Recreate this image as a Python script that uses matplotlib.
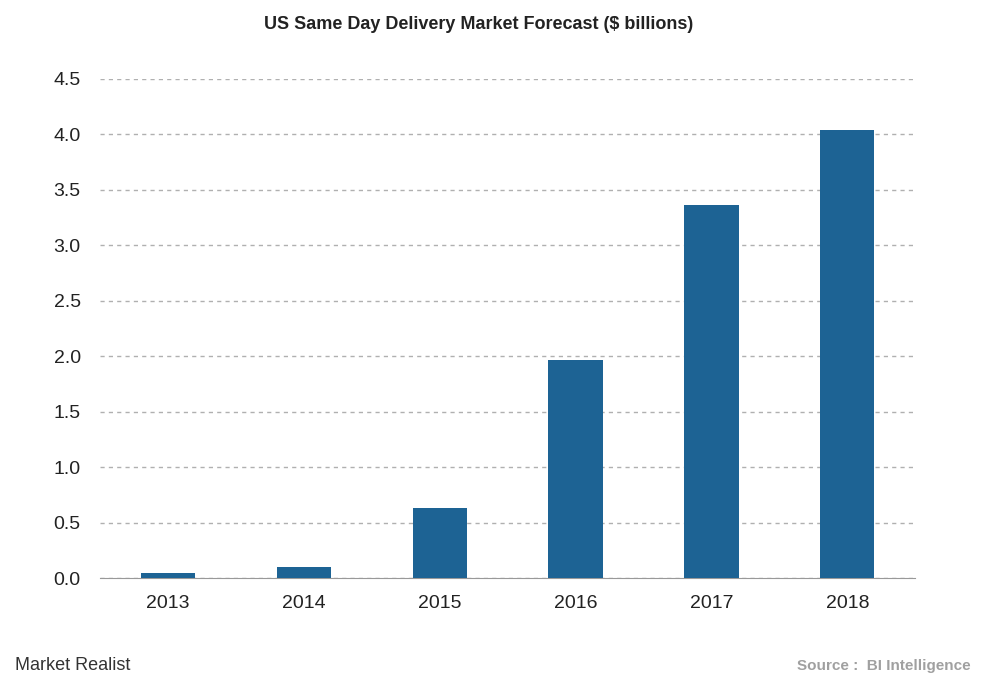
import matplotlib
matplotlib.use("Agg")
import matplotlib.pyplot as plt

years = ["2013", "2014", "2015", "2016", "2017", "2018"]
values = [0.05, 0.10, 0.63, 1.97, 3.36, 4.04]
yticks = [0.0, 0.5, 1.0, 1.5, 2.0, 2.5, 3.0, 3.5, 4.0, 4.5]

plt.rcParams['font.family'] = ['Liberation Sans', 'DejaVu Sans']
fig = plt.figure(figsize=(9.82, 6.9), dpi=100)
ax = fig.add_axes([0.102, 0.162, 0.830, 0.724])

ax.bar(range(len(years)), values, width=0.4, color="#1d6394", zorder=3)
ax.set_xlim(-0.5, len(years) - 0.5)
ax.set_ylim(0, 4.5)
ax.set_yticks(yticks)
ax.set_yticklabels([f"{v:.1f}" for v in yticks])
ax.set_xticks(range(len(years)))
ax.set_xticklabels(years)
ax.tick_params(axis="both", length=0, labelsize=14, colors="#222222")
ax.tick_params(axis="x", pad=12)
ax.tick_params(axis="y", pad=14)
ax.yaxis.grid(True, linestyle=(0, (3, 3)), color="#b0b0b0", linewidth=1, zorder=0)
for s in ["top", "right", "left"]:
    ax.spines[s].set_visible(False)
ax.spines["bottom"].set_color("#999999")

fig.text(0.487, 0.965, "US Same Day Delivery Market Forecast ($ billions)",
         ha="center", va="center", fontsize=13, fontweight="bold", color="#222222")
fig.text(0.015, 0.035, "Market Realist", ha="left", va="center", fontsize=13, color="#333333")
fig.text(0.988, 0.035, "Source :  BI Intelligence", ha="right", va="center",
         fontsize=11, fontweight="bold", color="#a0a0a0")

fig.savefig("out.png", dpi=100)
